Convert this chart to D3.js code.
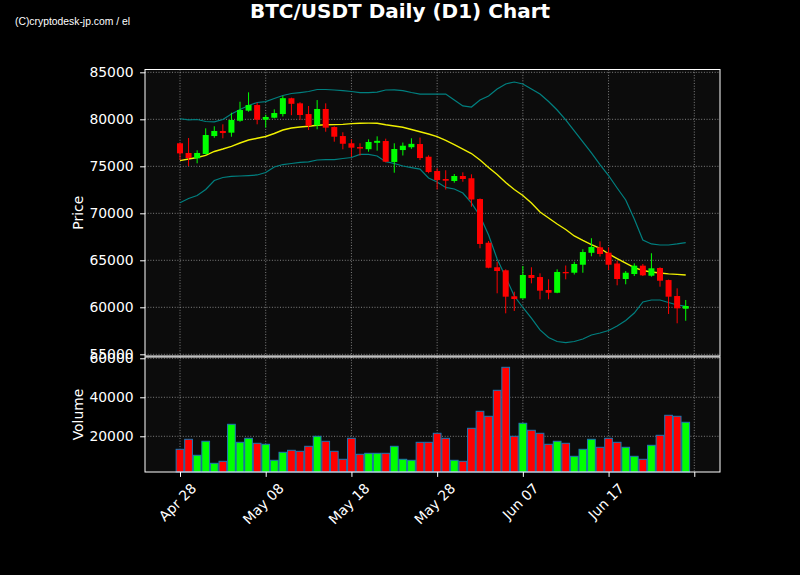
<!DOCTYPE html>
<html>
<head>
<meta charset="utf-8">
<script src="https://cdn.jsdelivr.net/npm/d3@7"></script>
<style>
  body { margin: 0; background: #000; }
</style>
</head>
<body>
<div class="chart"></div>
<script>
// daily candles, first one on Apr 28
const startDate = "2024-04-28";

const opens = [77450, 76420, 75850, 76310, 78220, 78760, 78580, 79850, 80920, 81520,
  79960, 80170, 80560, 82240, 81700, 80560, 79360, 81100, 79180, 78220,
  77450, 77050, 76820, 77500, 77690, 75460, 76730, 77030, 77370, 76020,
  74500, 73650, 73440, 73970, 73730, 71520, 66870, 64260, 63940, 61170,
  60960, 63440, 63220, 61840, 61550, 63760, 63680, 64530, 65800, 66380,
  65810, 64660, 63010, 63540, 64430, 63360, 64180, 62900, 61200, 59850];
const highs = [77500, 78010, 76700, 79040, 79260, 79470, 80700, 81870, 82870, 81770,
  80490, 81060, 82500, 82300, 81820, 81420, 82050, 81700, 79250, 78620,
  77870, 77450, 77870, 78190, 77940, 77450, 77530, 77980, 78060, 76170,
  74790, 74580, 74180, 74360, 74150, 71580, 67050, 64850, 64040, 61660,
  64390, 64260, 63620, 62980, 64040, 64450, 64850, 66170, 67350, 67020,
  66380, 64950, 63860, 64680, 64610, 65750, 64260, 62950, 62020, 60780];
const lows = [75670, 75030, 75320, 76260, 78040, 77980, 78150, 79740, 80810, 79470,
  79110, 80100, 80300, 80440, 79930, 78860, 78940, 78680, 77620, 76810,
  76020, 76150, 76550, 76660, 75430, 74320, 76150, 76860, 75670, 74260,
  72550, 72530, 73260, 73360, 70700, 66280, 64150, 61490, 59360, 59610,
  60900, 62550, 60850, 60850, 61500, 62980, 63490, 63680, 65430, 65400,
  63970, 62340, 62450, 63330, 63330, 63260, 62190, 59290, 58300, 58570];
const closes = [76380, 75880, 76420, 78330, 78760, 78540, 79930, 80990, 81520, 79960,
  80250, 80670, 82250, 81650, 80460, 79320, 81100, 79110, 78150, 77400,
  76980, 76890, 77590, 77710, 75490, 76840, 77190, 77390, 75880, 74390,
  73540, 73470, 73970, 73650, 71470, 66740, 64210, 63860, 61130, 60880,
  63440, 63120, 61770, 61550, 63760, 63620, 64610, 65880, 66420, 65670,
  64530, 63010, 63680, 64430, 63400, 64150, 62830, 61130, 59890, 60140];
const volumes = [13330, 18460, 10260, 17440, 6150, 7180, 26150, 16920, 18970, 16410,
  15900, 7690, 11790, 12820, 12310, 14870, 20000, 17440, 12310, 8210,
  18970, 10770, 11280, 11280, 11280, 14870, 8210, 7690, 16920, 16920,
  21540, 18970, 7690, 7180, 24100, 32820, 30260, 43590, 55380, 20000,
  26670, 23080, 21540, 15900, 17440, 16410, 9740, 13330, 18460, 14360,
  18970, 16920, 14360, 9740, 8210, 15380, 20510, 30770, 30260, 27180];

// 20-day average and bands
const ma20 = [75600, 75780, 75940, 76170, 76580, 76840, 77130, 77480, 77800, 77980,
  78170, 78490, 78860, 79080, 79180, 79270, 79370, 79420, 79440, 79460,
  79540, 79580, 79590, 79580, 79420, 79290, 79150, 78920, 78680, 78440,
  78150, 77750, 77300, 76840, 76360, 75670, 74870, 74130, 73280, 72530,
  71890, 71100, 70140, 69500, 68860, 68280, 67590, 67110, 66680, 66280,
  65690, 65190, 64710, 64230, 63920, 63760, 63650, 63560, 63500, 63440];
const bbUpper = [80060, 79950, 79980, 79770, 79730, 79980, 80560, 81040, 81470, 81790,
  81890, 82210, 82530, 82750, 82850, 82960, 83170, 83170, 83120, 83060,
  82960, 82850, 82850, 82900, 83120, 83140, 83060, 82850, 82690, 82690,
  82690, 82690, 82050, 81420, 81310, 82050, 82480, 83220, 83760, 83970,
  83760, 83220, 82690, 81890, 80990, 79930, 78760, 77590, 76420, 75190,
  74020, 72690, 71420, 69390, 67160, 66740, 66630, 66630, 66740, 66890];
const bbLower = [71130, 71580, 71890, 72530, 73490, 73810, 73920, 73970, 74020, 74080,
  74340, 74930, 75190, 75300, 75410, 75480, 75670, 75720, 75720, 75830,
  75940, 76260, 76260, 76100, 75490, 75300, 75030, 74870, 74710, 73760,
  73330, 72750, 72590, 72160, 71100, 69710, 67690, 65140, 63220, 61200,
  59980, 58860, 57590, 56790, 56360, 56240, 56360, 56630, 57050, 57270,
  57530, 58010, 58600, 59390, 60570, 60780, 60780, 60510, 60250, 60090];

const priceTicks = [55000, 60000, 65000, 70000, 75000, 80000, 85000];
const volumeTicks = [20000, 40000, 60000];
const dateTicks = ["2024-04-28", "2024-05-08", "2024-05-18", "2024-05-28", "2024-06-07", "2024-06-17", "2024-06-27"];
const dateTickLabels = ["Apr 28", "May 08", "May 18", "May 28", "Jun 07", "Jun 17", ""];

const w = 800, h = 575;
const left = 145, right = 720;
const priceTop = 69.5, priceBottom = 356;
const volTop = 357, volBottom = 472;
const upColor = "#00ff00", downColor = "#ff0000";
const font = "DejaVu Sans, sans-serif";

const start = d3.utcParse("%Y-%m-%d")(startDate);
const dates = opens.map((d, i) => d3.utcDay.offset(start, i));
const tickDates = dateTicks.map(d3.utcParse("%Y-%m-%d"));

const svg = d3.select(".chart").append("svg")
  .attr("width", w).attr("height", h)
  .style("background", "#000");

const x = d3.scaleUtc()
  .domain([d3.utcHour.offset(start, -98), d3.utcHour.offset(start, 63 * 24)])
  .range([left, right]);
const y = d3.scaleLinear().domain([54820, 85300]).range([priceBottom, priceTop]);
const yVol = d3.scaleLinear().domain([1690, 60660]).range([volBottom, volTop]);

// panel backgrounds
[[priceTop, priceBottom], [volTop, volBottom]].forEach(([t, b]) => {
  svg.append("rect")
    .attr("x", left).attr("y", t)
    .attr("width", right - left).attr("height", b - t)
    .attr("fill", "#0c0c0c");
});

// grid
const grid = svg.append("g")
  .attr("stroke", "#a0a0a0")
  .attr("stroke-width", 0.8)
  .attr("stroke-dasharray", "1,1.7");
tickDates.forEach(d => {
  [[priceTop, priceBottom], [volTop, volBottom]].forEach(([t, b]) => {
    grid.append("line").attr("x1", x(d)).attr("x2", x(d)).attr("y1", t).attr("y2", b);
  });
});
priceTicks.forEach(v => {
  grid.append("line").attr("x1", left).attr("x2", right).attr("y1", y(v)).attr("y2", y(v));
});
volumeTicks.forEach(v => {
  grid.append("line").attr("x1", left).attr("x2", right).attr("y1", yVol(v)).attr("y2", yVol(v));
});

const step = x(dates[1]) - x(dates[0]);

// volume bars
svg.append("g")
  .selectAll("rect")
  .data(volumes)
  .enter()
  .append("rect")
  .attr("x", (d, i) => x(dates[i]) - step * 0.45)
  .attr("width", step * 0.9)
  .attr("y", d => yVol(d))
  .attr("height", d => volBottom - yVol(d))
  .attr("fill", (d, i) => closes[i] >= opens[i] ? upColor : downColor)
  .attr("stroke", "#1f77b4")
  .attr("stroke-width", 1);

// bands and average
const line = d3.line()
  .x((d, i) => x(dates[i]))
  .y(d => y(d));
[bbUpper, bbLower].forEach(band => {
  svg.append("path")
    .attr("d", line(band))
    .attr("fill", "none")
    .attr("stroke", "#008080")
    .attr("stroke-width", 1.2);
});
svg.append("path")
  .attr("d", line(ma20))
  .attr("fill", "none")
  .attr("stroke", "#f0f000")
  .attr("stroke-width", 1.4);

// candles
const candles = svg.append("g")
  .selectAll("g")
  .data(opens)
  .enter()
  .append("g");
candles.append("line")
  .attr("x1", (d, i) => x(dates[i]))
  .attr("x2", (d, i) => x(dates[i]))
  .attr("y1", (d, i) => y(highs[i]))
  .attr("y2", (d, i) => y(lows[i]))
  .attr("stroke", (d, i) => closes[i] >= opens[i] ? upColor : downColor)
  .attr("stroke-width", 1);
candles.append("rect")
  .attr("x", (d, i) => x(dates[i]) - 3)
  .attr("width", 6)
  .attr("y", (d, i) => y(Math.max(opens[i], closes[i])))
  .attr("height", (d, i) => Math.max(1, Math.abs(y(opens[i]) - y(closes[i]))))
  .attr("fill", (d, i) => closes[i] >= opens[i] ? upColor : downColor);

// frames
[[priceTop, priceBottom], [volTop, volBottom]].forEach(([t, b]) => {
  svg.append("rect")
    .attr("x", left).attr("y", t)
    .attr("width", right - left).attr("height", b - t)
    .attr("fill", "none")
    .attr("stroke", "#fff")
    .attr("stroke-width", 1);
});

const styleAxis = g => {
  g.select(".domain").remove();
  g.selectAll("line").attr("stroke", "#fff");
  g.selectAll("text")
    .attr("fill", "#fff")
    .attr("font-family", font)
    .attr("font-size", "13.9px");
};

svg.append("g")
  .attr("transform", `translate(${left},0)`)
  .call(d3.axisLeft(y).tickValues(priceTicks).tickFormat(d3.format("d")).tickSize(4.9).tickPadding(6.5))
  .call(styleAxis);

svg.append("g")
  .attr("transform", `translate(${left},0)`)
  .call(d3.axisLeft(yVol).tickValues(volumeTicks).tickFormat(d3.format("d")).tickSize(4.9).tickPadding(6.5))
  .call(styleAxis);

const xAxis = svg.append("g")
  .attr("transform", `translate(0,${volBottom})`)
  .call(d3.axisBottom(x).tickValues(tickDates).tickFormat((d, i) => dateTickLabels[i]).tickSize(4.9))
  .call(styleAxis);
xAxis.selectAll("text")
  .attr("y", null)
  .attr("dy", null)
  .attr("text-anchor", "middle")
  .attr("dominant-baseline", "central")
  .attr("transform", function () {
    const len = this.getComputedTextLength();
    const off = 9.5 + (len + 12) / (2 * Math.SQRT2);
    return `translate(-3,${off}) rotate(-45)`;
  });

// axis labels
svg.append("text")
  .attr("transform", `translate(78,${(priceTop + priceBottom) / 2}) rotate(-90)`)
  .attr("text-anchor", "middle")
  .attr("dominant-baseline", "central")
  .attr("fill", "#fff")
  .attr("font-family", font)
  .attr("font-size", "13.9px")
  .text("Price");
svg.append("text")
  .attr("transform", `translate(78,${(volTop + volBottom) / 2}) rotate(-90)`)
  .attr("text-anchor", "middle")
  .attr("dominant-baseline", "central")
  .attr("fill", "#fff")
  .attr("font-family", font)
  .attr("font-size", "13.9px")
  .text("Volume");

// title and watermark
svg.append("text")
  .attr("x", 400).attr("y", 18)
  .attr("text-anchor", "middle")
  .attr("fill", "#fff")
  .attr("font-family", font)
  .attr("font-weight", "bold")
  .attr("font-size", "20px")
  .text("BTC/USDT Daily (D1) Chart");
svg.append("text")
  .attr("x", 15).attr("y", 25)
  .attr("fill", "#fff")
  .attr("font-family", "Liberation Sans, sans-serif")
  .attr("font-size", "10.5px")
  .attr("textLength", 115)
  .attr("lengthAdjust", "spacingAndGlyphs")
  .text("(C)cryptodesk-jp.com / el");
</script>
</body>
</html>
